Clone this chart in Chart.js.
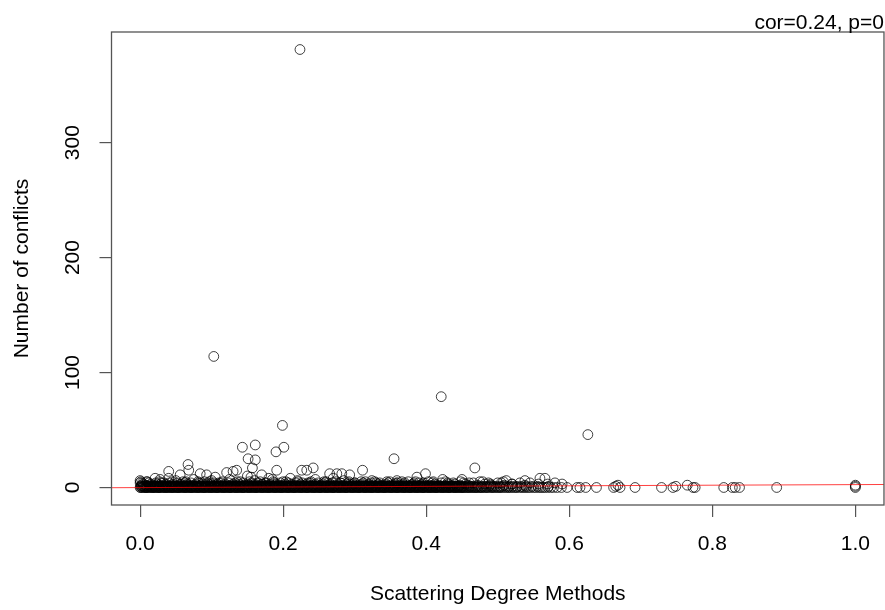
<!DOCTYPE html>
<html><head><meta charset="utf-8">
<script src="https://cdn.jsdelivr.net/npm/chart.js@4"></script>
<style>html,body{margin:0;padding:0;background:#fff}canvas{display:block}</style>
</head><body>
<canvas id="c" width="885" height="610"></canvas>
<script>
// ---- tick labels / text ----
const xTicks = [0, 0.2, 0.4, 0.6, 0.8, 1.0];
const yTicks = [0, 100, 200, 300];
const xLabel = 'Scattering Degree Methods';
const yLabel = 'Number of conflicts';
const corText = 'cor=0.24, p=0';

// ---- dense band: methods with 0 conflicts (x = scattering degree) ----
const zeroX = [.000,.003,.007,.009,.012,.016,.018,.021,.025,.027,.030,.034,.036,.039,.043,.045,.048,.052,.054,.057,.061,.063,.066,.070,.072,.075,.079,.081,.084,.088,.090,.093,.097,.099,.102,.106,.108,.111,.115,.117,.120,.124,.126,.129,.133,.135,.138,.142,.144,.147,.151,.153,.156,.160,.162,.165,.169,.171,.174,.178,.180,.183,.187,.189,.192,.196,.198,.201,.205,.207,.210,.214,.216,.219,.223,.225,.228,.232,.234,.237,.241,.243,.246,.250,.252,.255,.259,.261,.264,.268,.270,.273,.277,.279,.282,.286,.288,.291,.295,.297,.300,.304,.306,.309,.313,.315,.318,.322,.324,.327,.331,.333,.336,.340,.342,.345,.349,.351,.354,.358,.360,.363,.367,.369,.372,.376,.378,.381,.385,.387,.390,.394,.396,.399,.403,.405,.408,.412,.414,.417,.421,.423,.426,.430,.432,.435,.439,.441,.444,.448,.450,.453,.457,.459,.462,.466,.468,.471,.475,.478,.483,.487,.492,.496,.501,.505,.511,.516,.522,.527,.534,.540,.546,.553,.560,.566,.574,.583,.589,.597,.611,
  .001,.005,.008,.010,.014,.017,.020,.023,.026,.028,.032,.035,.038,.041,.044,.047,.050,.053,.055,.059,.062,.065,.068,.071,.073,.077,.080,.083,.086,.089,.091,.095,.098,.101,.104,.107,.109,.113,.116,.119,.122,.125,.127,.131,.134,.137,.140,.143,.145,.149,.152,.155,.158,.161,.163,.167,.170,.173,.176,.179,.181,.185,.188,.191,.194,.197,.199,.203,.206,.209,.212,.215,.217,.221,.224,.227,.230,.233,.235,.239,.242,.245,.248,.251,.253,.257,.260,.263,.266,.269,.271,.275,.278,.281,.284,.287,.289,.293,.296,.299,.302,.305,.307,.311,.314,.317,.320,.323,.325,.329,.332,.335,.338,.341,.343,.347,.350,.353,.356,.359,.361,.365,.368,.371,.374,.377,.379,.383,.386,.389,.392,.395,.397,.401,.404,.407,.410,.413,.415,.419,.422,.425,.428,.431,.433,.437,.440,.443,.446,.449,.452,.455,.460,.464,.469,.473,.477,.481,.485,.490,.494,.499,.503,.508,.514,.519,.525,.531,.537,.543,.550,.557,.563,.570,.578];
// methods with 1 conflict
const oneX = [.001,.005,.008,.011,.014,.017,.020,.023,.026,.029,.032,.035,.038,.041,.044,.047,.050,.053,.056,.059,.062,.065,.068,.071,.074,.077,.080,.083,.086,.089,.092,.095,.098,.101,.104,.107,.110,.113,.116,.119,.122,.125,.128,.131,.134,.137,.140,.143,.146,.149,.152,.155,.158,.161,.164,.167,.170,.173,.176,.179,.182,.185,.188,.191,.194,.197,.200,.203,.206,.209,.212,.215,.218,.221,.224,.227,.230,.233,.236,.239,.242,.245,.248,.251,.254,.257,.260,.263,.266,.269,.272,.275,.278,.281,.284,.287,.290,.293,.296,.299,.302,.305,.308,.311,.314,.317,.320,.323,.326,.329,.332,.335,.338,.341,.344,.347,.350,.353,.356,.359,.362,.365,.368,.371,.374,.377,.380,.383,.386,.389,.392,.395,.398,.401,.404,.407,.410,.413,.416,.419,.422,.425,.428,.431,.434,.437,.440,.443,.446,.450,.455,.461,.466,.473,.480,.488,.494,.503,.512,.521,.533,.548,.556,.571,
  .002,.004,.006,.010,.013,.015,.019,.022,.024,.028,.031,.033,.037,.040,.042,.046,.049,.051,.055,.058,.060,.064,.067,.069,.073,.076,.078,.082,.085,.087,.091,.094,.096,.100,.103,.105,.109,.112,.114,.118,.121,.123,.127,.130,.132,.136,.139,.141,.145,.148,.150,.154,.157,.159,.163,.166,.168,.172,.175,.177,.181,.184,.186,.190,.193,.195,.199,.202,.204,.208,.211,.213,.217,.220,.222,.226,.229,.231,.235,.238,.240,.244,.247,.249,.253,.256,.258,.262,.265,.267,.271,.274,.276,.280,.283,.285,.289,.292,.294,.298,.301,.303,.307,.310,.312,.316,.319,.321,.325,.328,.330,.334,.337,.339,.343,.346,.348,.352,.355,.357,.361,.364,.366,.370,.373,.375,.379,.382,.384,.388,.391,.393,.397,.400,.402,.406,.409,.411,.415,.418,.420,.424,.427,.429,.433,.436,.438,.442,.445,.448,.452,.458,.463,.470,.477,.484,.491,.498,.507,.516,.527,.540];
// methods with 2 conflicts
const twoX = [.002,.008,.013,.019,.026,.031,.037,.044,.049,.056,.062,.067,.074,.080,.085,.092,.098,.104,.110,.116,.122,.128,.134,.140,.146,.152,.158,.164,.170,.176,.182,.188,.194,.200,.206,.212,.218,.224,.230,.236,.242,.248,.254,.260,.266,.272,.278,.284,.290,.296,.302,.308,.314,.320,.326,.332,.338,.344,.350,.356,.362,.368,.374,.380,.386,.392,.398,.404,.410,.418,.427,.436,.447,.459,.472,.490,.509,.538];
// methods with 3 conflicts
const threeX = [.004,.015,.024,.036,.046,.057,.066,.078,.087,.099,.108,.119,.130,.139,.151,.160,.171,.182,.191,.203,.212,.224,.233,.245,.256,.266,.277,.289,.298,.310,.320,.333,.344,.357,.368,.381,.395,.412,.431,.455,.482,.520,.557];
// methods with 4 conflicts
const fourX = [.003,.012,.022,.033,.041,.052,.063,.071,.082,.094,.103,.113,.124,.133,.144,.156,.165,.176,.187,.196,.207,.218,.227,.238,.249,.258,.269,.280,.291,.300,.312,.323,.335,.347,.358,.370,.383,.396,.409,.421,.438,.452,.466,.487,.505,.531];
// methods with 5 conflicts
const fiveX = [.009,.027,.045,.064,.081,.097,.115,.136,.153,.168,.186,.204,.221,.239,.257,.274,.292,.309,.328,.349,.366,.385,.403,.427,.448,.479,.508];

// ---- remaining points (x, conflicts) ----
const otherX = [0,0,.001,.010,.021,.028,.030,.040,.040,.050,.056,.060,.067,.068,.075,.084,.090,.093,.100,.105,.110,.121,.125,.130,.135,.140,.150,.155,.157,.160,.170,.175,.180,.185,.191,.200,.210,.220,.226,.233,.235,.242,.245,.260,.265,.270,.275,.282,.285,.293,.300,.311,.315,.324,.330,.345,.359,.360,.375,.387,.390,.399,.410,.423,.430,.440,.450,.460,.468,.475,.490,.500,.512,.520,.538,.545,.559,.566,.570,.580,.590,
  .143,.151,.161,.161,.190,.201,.199,.355,.421,.626,.103,.2235];
const otherY = [6,4,5,5,8,7,4,8,14,6,11,5,20,15,7,12,5,11,6,9,4,13,7,14,15,5,10,9,17,6,11,4,8,7,15,5,8,6,15,15,4,17,7,5,12,8,12,12,6,11,4,15,5,6,4,5,6,4,5,9,4,12,5,7,4,3,7,4,17,5,3,4,6,3,6,4,8,8,3,4,3,
  35,25,37,24,31,35,54,25,79,46,114,381];
const tailX = [.615,.623,.638,.662,.665,.668,.671,.692,.729,.745,.749,.765,.773,.776,.816,.828,.832,.838,.890,1.0,1.0,1.0];
const tailY = [0,0,0,0,1,2,0,0,0,0,1,2,0,0,0,0,0,0,0,0,1,2];

// ---- fitted regression line (abline) ----
const fitX = [-0.04, 1.04];
const fitY = [-0.2, 2.6];

const pts = [];
zeroX.forEach(x => pts.push({x, y: 0}));
oneX.forEach(x => pts.push({x, y: 1}));
twoX.forEach(x => pts.push({x, y: 2}));
threeX.forEach(x => pts.push({x, y: 3}));
fourX.forEach(x => pts.push({x, y: 4}));
fiveX.forEach(x => pts.push({x, y: 5}));
otherX.forEach((x, i) => pts.push({x, y: otherY[i]}));
tailX.forEach((x, i) => pts.push({x, y: tailY[i]}));
const fitPts = fitX.map((x, i) => ({x, y: fitY[i]}));

const FONT_FAMILY = '"Liberation Sans", Arial, Helvetica, sans-serif';
const FONT = '21px ' + FONT_FAMILY;

const extras = {
  id: 'rExtras',
  afterDraw(chart) {
    const ctx = chart.ctx, a = chart.chartArea, s = chart.scales.y;
    ctx.save();
    ctx.strokeStyle = '#555';
    ctx.lineWidth = 1.3;
    ctx.strokeRect(a.left, a.top, a.right - a.left, a.bottom - a.top);
    ctx.fillStyle = '#000';
    ctx.font = FONT;
    ctx.textAlign = 'center';
    ctx.textBaseline = 'alphabetic';
    s.ticks.forEach(t => {
      const py = s.getPixelForValue(t.value);
      ctx.save();
      ctx.translate(79, py);
      ctx.rotate(-Math.PI / 2);
      ctx.fillText(String(t.value), 0, 0);
      ctx.restore();
    });
    ctx.textAlign = 'right';
    ctx.fillText(corText, a.right, 29);
    ctx.restore();
  }
};

new Chart(document.getElementById('c'), {
  type: 'scatter',
  data: {
    datasets: [
      {
        type: 'line',
        data: fitPts,
        borderColor: 'rgba(255,0,0,0.75)',
        borderWidth: 1,
        pointRadius: 0,
        fill: false,
        order: 0
      },
      {
        type: 'scatter',
        data: pts,
        pointStyle: 'circle',
        pointRadius: 4.9,
        pointBorderWidth: 1,
        pointBackgroundColor: 'rgba(0,0,0,0)',
        pointBorderColor: 'rgba(0,0,0,0.75)',
        order: 1
      }
    ]
  },
  options: {
    responsive: false,
    animation: false,
    devicePixelRatio: 1,
    events: [],
    layout: { autoPadding: false, padding: { top: 32, right: 1, left: 0, bottom: 0 } },
    plugins: { legend: { display: false }, tooltip: { enabled: false }, title: { display: false } },
    scales: {
      x: {
        type: 'linear',
        min: -0.04, max: 1.04,
        afterBuildTicks: s => { s.ticks = xTicks.map(v => ({ value: v })); },
        afterFit: s => { s.height = 105; },
        grid: { drawOnChartArea: false, drawTicks: true, tickLength: 12, color: '#555', lineWidth: 1.2 },
        border: { display: false },
        ticks: {
          padding: 15,
          color: '#000',
          font: { family: FONT_FAMILY, size: 21 },
          maxRotation: 0, minRotation: 0, autoSkip: false,
          callback: v => Number(v).toFixed(1)
        },
        title: {
          display: true, text: xLabel, color: '#000',
          font: { family: FONT_FAMILY, size: 21 },
          padding: { top: 0, bottom: 2.7 }
        }
      },
      y: {
        type: 'linear',
        min: -15.24, max: 396.24,
        afterBuildTicks: s => { s.ticks = yTicks.map(v => ({ value: v })); },
        afterFit: s => { s.width = 111.5; },
        grid: { drawOnChartArea: false, drawTicks: true, tickLength: 12, color: '#555', lineWidth: 1.2 },
        border: { display: false },
        ticks: { display: false, autoSkip: false },
        title: {
          display: true, text: yLabel, color: '#000',
          font: { family: FONT_FAMILY, size: 21 },
          padding: { top: 10.1, bottom: 0 }
        }
      }
    }
  },
  plugins: [extras]
});
</script>
</body></html>
